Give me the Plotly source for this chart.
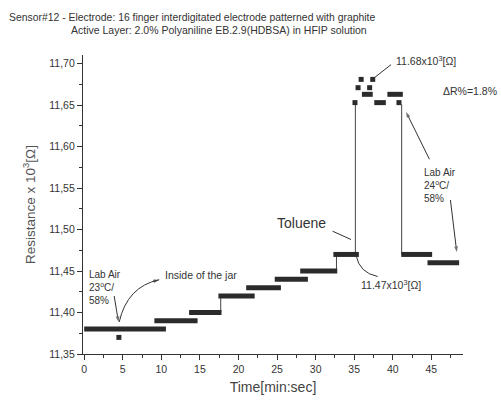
import plotly.graph_objects as go

# ---- data ----
seg_start = [0.0, 9.1, 13.6, 17.4, 21.0, 24.7, 28.0, 32.3, 36.0, 39.3, 37.6, 41.1, 44.5]
seg_end   = [10.6, 14.7, 17.8, 22.1, 25.5, 29.0, 32.8, 35.6, 37.4, 41.3, 39.1, 45.1, 48.6]
seg_level = [11.38, 11.39, 11.40, 11.42, 11.43, 11.44, 11.45, 11.47, 11.663, 11.663, 11.653, 11.47, 11.46]

pt_time  = [4.5, 35.9, 37.4, 35.5, 37.0, 35.1, 40.8]
pt_level = [11.37, 11.681, 11.681, 11.671, 11.671, 11.653, 11.653]

conn_time = [17.7, 32.7, 35.15, 41.15]
conn_from = [11.40, 11.45, 11.47, 11.47]
conn_to   = [11.42, 11.47, 11.651, 11.651]

x_ticks = [0, 5, 10, 15, 20, 25, 30, 35, 40, 45]
y_ticks = [11.35, 11.40, 11.45, 11.50, 11.55, 11.60, 11.65, 11.70]

FONT = "Liberation Sans, Arial, sans-serif"
DARK = "#2b2b2b"
INK = "#333333"

fig = go.Figure()

# vertical connectors
cx, cy = [], []
for t, a, b in zip(conn_time, conn_from, conn_to):
    cx += [t, t, None]
    cy += [a, b, None]
fig.add_trace(go.Scatter(x=cx, y=cy, mode="lines",
                         line=dict(color="#444444", width=1), hoverinfo="skip"))

# horizontal level bars
sx, sy = [], []
for a, b, r in zip(seg_start, seg_end, seg_level):
    sx += [a, b, None]
    sy += [r, r, None]
fig.add_trace(go.Scatter(x=sx, y=sy, mode="lines",
                         line=dict(color=DARK, width=5)))

# isolated points
fig.add_trace(go.Scatter(x=pt_time, y=pt_level, mode="markers",
                         marker=dict(symbol="square", size=5, color=DARK)))

# ---- callout lines / arrows (decoration) ----
def callout(x0, y0, x1, y1, head=True):
    fig.add_trace(go.Scatter(
        x=[x0, x1], y=[y0, y1], mode="lines+markers" if head else "lines",
        line=dict(color=INK, width=1),
        marker=dict(symbol=["circle", "arrow"], size=[0, 6], color=INK,
                    angleref="previous", line=dict(width=0)),
        hoverinfo="skip"))

callout(32.2, 11.498, 34.59, 11.488, head=False)       # Toluene
callout(37.61, 11.683, 39.78, 11.6988, head=False)     # 11.68 label
callout(44.75, 11.5847, 41.72, 11.6418)                # Lab Air 24 up
callout(47.47, 11.5357, 48.29, 11.4728)                # Lab Air 24 down
callout(3.89, 11.4199, 4.45, 11.3885)                  # Lab Air 23
callout(8.9, 11.4375, 9.73, 11.4395)                   # jar arrowhead

shapes = [
    dict(type="path", xref="x", yref="y",
         path="M 4.54,11.3885 Q 5.58,11.4313 9.73,11.4395",
         line=dict(color=INK, width=1)),
    dict(type="path", xref="x", yref="y",
         path="M 35.24,11.469 Q 35.67,11.4478 38.04,11.4434",
         line=dict(color=INK, width=1)),
]

# ---- text annotations ----
ann = []
def txt(x, y, s, size=10, xanchor="center", align="center", color=INK):
    ann.append(dict(x=x, y=y, xref="paper", yref="paper", text=s, showarrow=False,
                    xanchor=xanchor, yanchor="middle", align=align,
                    font=dict(family=FONT, size=size, color=color)))

txt(-0.199, 1.126, "Sensor#12 - Electrode: 16 finger interdigitated electrode patterned with graphite",
    size=10.4, xanchor="left")
txt(-0.036, 1.082, "Active Layer: 2.0% Polyaniline EB.2.9(HDBSA) in HFIP solution",
    size=10.5, xanchor="left")
txt(0.576, 0.438, "Toluene", size=14)
txt(0.811, 0.232, "11.47x10<sup>3</sup>[Ω]", size=10.5)
txt(0.903, 0.980, "11.68x10<sup>3</sup>[Ω]", size=10.5)
txt(1.095, 0.879, "ΔR%=1.8%", size=10.5, xanchor="right")
txt(0.891, 0.565, "Lab Air<br>24<sup>o</sup>C/<br>58%", size=10, xanchor="left", align="left")
txt(0.0105, 0.222, "Lab Air<br>23<sup>o</sup>C/<br>58%", size=10, xanchor="left", align="left")
txt(0.3105, 0.265, "Inside of the jar", size=10.5)

fig.update_layout(
    width=501, height=405,
    margin=dict(l=83, r=38, t=55, b=44),
    paper_bgcolor="white", plot_bgcolor="white",
    showlegend=False,
    separators=",.",
    font=dict(family=FONT, size=10, color=INK),
    annotations=ann, shapes=shapes,
    xaxis=dict(range=[-0.15, 49.1], tickvals=x_ticks, ticks="outside", ticklen=5,
               tickwidth=1, tickcolor=INK, showline=True, linecolor=INK,
               linewidth=1.3, showgrid=False, zeroline=False,
               minor=dict(ticks="outside", dtick=2.5, tick0=0, ticklen=3, tickcolor=INK),
               tickfont=dict(size=10.5, family=FONT, color=INK),
               title=dict(text="Time[min:sec]", font=dict(size=14, family=FONT, color="#444444"),
                          standoff=8)),
    yaxis=dict(range=[11.35, 11.7104], tickvals=y_ticks, tickformat=".2f", ticks="outside",
               ticklen=5, tickwidth=1, tickcolor=INK, showline=True,
               linecolor=INK, linewidth=1.3, showgrid=False, zeroline=False,
               minor=dict(ticks="outside", dtick=0.025, tick0=11.35, ticklen=3, tickcolor=INK),
               tickfont=dict(size=10.5, family=FONT, color=INK),
               title=dict(text="Resistance x 10<sup>3</sup>[Ω]",
                          font=dict(size=13.5, family=FONT, color="#555555"), standoff=10)),
)

fig.write_html("out.html", config={"displayModeBar": False},
               post_script="document.body.style.margin='0';")
